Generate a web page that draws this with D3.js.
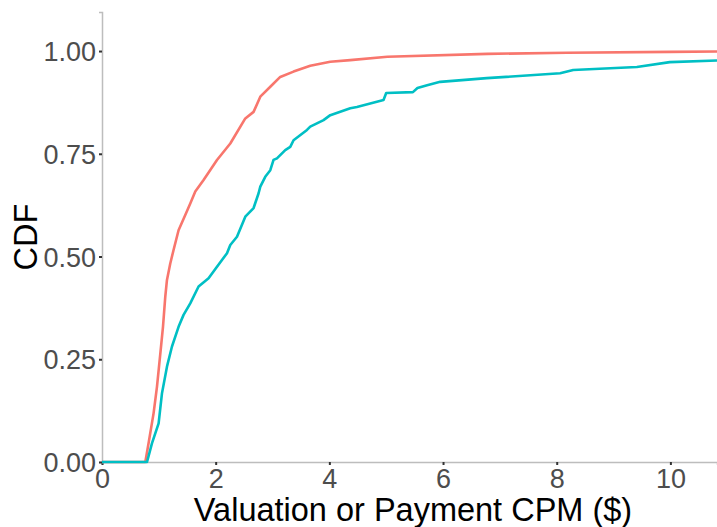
<!DOCTYPE html>
<html>
<head>
<meta charset="utf-8">
<script src="https://cdn.jsdelivr.net/npm/d3@7"></script>
<style>
  body { margin: 0; background: #fff; }
  text { font-family: "Liberation Sans", Arial, sans-serif; }
</style>
</head>
<body>
<div id="chart"></div>
<script>
// Dimensions
const width = 717;
const height = 527;
const margin = { top: 12, right: 0, bottom: 65, left: 102 };

// Tick values
const xTicks = [0, 2, 4, 6, 8, 10];
const yTicks = [0, 0.25, 0.5, 0.75, 1];

// Red series - x and CDF
const redX = [0, 0.762, 0.82, 0.908, 0.967, 1.026, 1.073, 1.113, 1.143, 1.201, 1.259, 1.347, 1.465, 1.553, 1.641, 1.787,
    2.023, 2.257, 2.521, 2.667, 2.785, 2.961, 3.136, 3.37, 3.664, 4.016, 4.368, 5.02, 6.78, 8.18, 10.0, 10.82];
const redY = [0, 0, 0.046, 0.119, 0.183, 0.264, 0.329, 0.402, 0.443, 0.483, 0.516, 0.564, 0.601, 0.629, 0.658, 0.686,
    0.735, 0.775, 0.836, 0.852, 0.889, 0.913, 0.937, 0.95, 0.964, 0.974, 0.978, 0.986, 0.993, 0.996, 0.998, 0.999];

// Teal series - x and CDF
const tealX = [0, 0.792, 0.88, 0.996, 1.055, 1.143, 1.231, 1.347, 1.435, 1.553, 1.699, 1.875, 2.023, 2.199, 2.257, 2.375,
    2.521, 2.667, 2.755, 2.785, 2.872, 2.961, 3.018, 3.078, 3.224, 3.312, 3.37, 3.606, 3.664, 3.898, 4.016, 4.368, 4.485,
    4.953, 5.0, 5.47, 5.55, 5.72, 5.95, 6.77, 8.06, 8.29, 9.41, 9.99, 10.82];
const tealY = [0, 0, 0.046, 0.094, 0.167, 0.232, 0.281, 0.329, 0.358, 0.386, 0.427, 0.447, 0.475, 0.508, 0.528, 0.548,
    0.597, 0.618, 0.654, 0.67, 0.694, 0.71, 0.735, 0.739, 0.759, 0.767, 0.783, 0.808, 0.816, 0.832, 0.844, 0.861, 0.864,
    0.881, 0.898, 0.9, 0.91, 0.917, 0.925, 0.934, 0.946, 0.954, 0.961, 0.973, 0.977];

const series = [
    { name: "Valuation", color: "#F8766D", xs: redX, ys: redY },
    { name: "Payment", color: "#00BFC4", xs: tealX, ys: tealY }
];

const svg = d3.select("#chart")
    .append("svg")
    .attr("width", width)
    .attr("height", height);

// Scales
const x = d3.scaleLinear()
    .domain([0, 10.82])
    .range([margin.left, width - margin.right]);
const y = d3.scaleLinear()
    .domain([0, 1.095])
    .range([height - margin.bottom, margin.top]);

// X axis
const xAxis = svg.append("g")
    .attr("transform", `translate(0,${height - margin.bottom})`)
    .call(d3.axisBottom(x).tickValues(xTicks).tickSize(3).tickPadding(4).tickFormat(d3.format("d")));
xAxis.select(".domain").attr("stroke", "#bdbdbd").attr("stroke-width", 1.5);
xAxis.selectAll(".tick line").attr("stroke", "#333").attr("stroke-width", 2);
xAxis.selectAll(".tick text")
    .attr("fill", "#4d4d4d")
    .style("font-size", "27px");

// Y axis
const yAxis = svg.append("g")
    .attr("transform", `translate(${margin.left},0)`)
    .call(d3.axisLeft(y).tickValues(yTicks).tickSize(3).tickPadding(3).tickFormat(d3.format(".2f")));
yAxis.select(".domain").attr("stroke", "#bdbdbd").attr("stroke-width", 1.5);
yAxis.selectAll(".tick line").attr("stroke", "#333").attr("stroke-width", 2);
yAxis.selectAll(".tick text")
    .attr("fill", "#4d4d4d")
    .attr("dy", "0.36em")
    .style("font-size", "27px");

// Lines
const line = d3.line()
    .x(d => x(d[0]))
    .y(d => y(d[1]));

svg.selectAll(".cdf")
    .data(series)
    .join("path")
    .attr("class", "cdf")
    .attr("fill", "none")
    .attr("stroke", d => d.color)
    .attr("stroke-width", 2.6)
    .attr("stroke-linejoin", "round")
    .attr("d", d => line(d.xs.map((v, i) => [v, d.ys[i]])));

// Axis titles
svg.append("text")
    .attr("x", 413)
    .attr("y", 521)
    .attr("text-anchor", "middle")
    .attr("fill", "#000")
    .style("font-size", "32.5px")
    .text("Valuation or Payment CPM ($)");

svg.append("text")
    .attr("transform", `translate(37,${(margin.top + height - margin.bottom) / 2}) rotate(-90)`)
    .attr("text-anchor", "middle")
    .attr("fill", "#000")
    .style("font-size", "32.5px")
    .text("CDF");
</script>
</body>
</html>
